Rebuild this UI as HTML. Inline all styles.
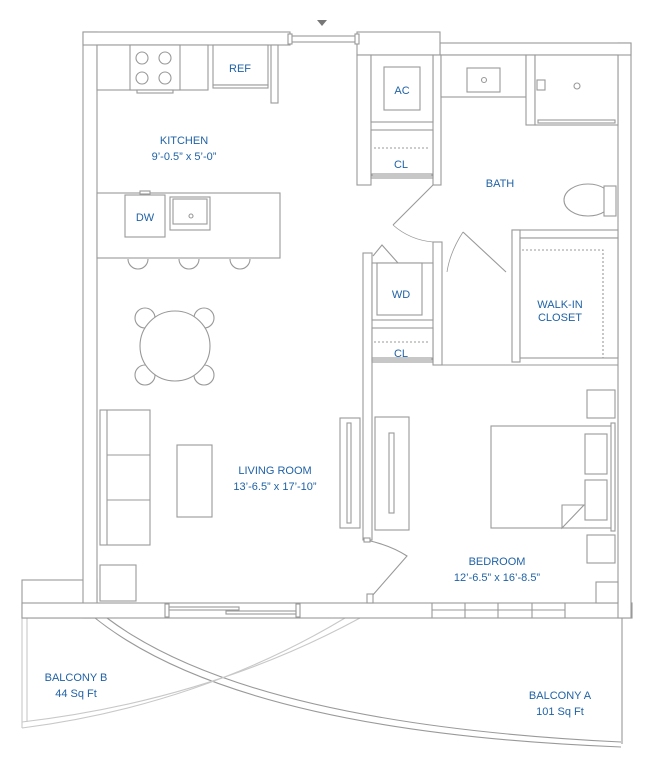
<!DOCTYPE html>
<html><head><meta charset="utf-8"><style>
html,body{margin:0;padding:0;background:#fff;width:652px;height:768px;overflow:hidden}
svg{display:block}
text{font-family:"Liberation Sans",sans-serif;fill:#1f62a6;font-size:11px;text-anchor:middle}
</style></head><body>
<svg width="652" height="768" viewBox="0 0 652 768" xmlns="http://www.w3.org/2000/svg">
<g fill="#fff" stroke="#999" stroke-width="1.1">
<!-- balcony -->
<path d="M22,618 V728 M27,618 V722" stroke="#c8c8c8" fill="none"/>
<path d="M622,618 V744" />
<path d="M107,618 Q248,724 621,742" fill="none"/>
<path d="M95,618 Q238,732 621,747" fill="none"/>
<path d="M360,618 Q209,700 22,722" fill="none" stroke="#c8c8c8"/>
<path d="M345,618 Q200,705 22,728" fill="none" stroke="#c8c8c8"/>
<!-- outer walls -->
<rect x="22" y="580" width="75" height="38"/>
<rect x="83" y="32" width="14" height="586"/>
<rect x="83" y="32" width="207" height="13"/>
<rect x="22" y="603" width="610" height="15"/>
<rect x="618" y="43" width="13" height="575"/>
<rect x="440" y="43" width="191" height="12"/>
<rect x="357" y="32" width="83" height="23"/>
<rect x="596" y="582" width="22" height="21"/>
<!-- top window -->
<rect x="290" y="36" width="67" height="6"/>
<rect x="288" y="34" width="4" height="10"/>
<rect x="355" y="34" width="4" height="10"/>
<!-- bottom sliding door -->
<rect x="165" y="604" width="133" height="13" stroke="none"/>
<rect x="165" y="604" width="4" height="13"/>
<rect x="296" y="604" width="4" height="13"/>
<rect x="169" y="607" width="70" height="3"/>
<rect x="226" y="611" width="70" height="3"/>
<!-- bedroom window -->
<path d="M432,603 V618 M465,603 V618 M498,603 V618 M532,603 V618 M565,603 V618 M432,610 H565" fill="none"/>
<!-- kitchen -->
<rect x="97" y="45" width="111" height="45"/>
<rect x="130" y="45" width="50" height="45"/>
<circle cx="142" cy="58" r="6"/><circle cx="165" cy="58" r="6"/>
<circle cx="142" cy="78" r="6"/><circle cx="165" cy="78" r="6"/>
<rect x="137" y="90" width="36" height="3"/>
<rect x="213" y="45" width="55" height="40"/>
<rect x="213" y="85" width="55" height="3"/>
<rect x="271" y="45" width="7" height="58"/>
<rect x="97" y="193" width="183" height="65"/>
<rect x="125" y="195" width="40" height="42"/>
<rect x="140" y="191" width="10" height="3"/>
<rect x="170" y="197" width="40" height="33"/>
<rect x="173" y="199" width="34" height="25"/>
<circle cx="191" cy="216" r="2"/>
<path d="M128,259 a10,10 0 0 0 20,0 M179,259 a10,10 0 0 0 20,0 M230,259 a10,10 0 0 0 20,0"/>
<!-- dining -->
<circle cx="145" cy="318" r="10"/><circle cx="204" cy="318" r="10"/>
<circle cx="145" cy="375" r="10"/><circle cx="204" cy="375" r="10"/>
<circle cx="175" cy="346" r="35"/>
<!-- sofa -->
<rect x="100" y="410" width="50" height="135"/>
<path d="M107,410 V545 M107,455 H150 M107,500 H150" fill="none"/>
<rect x="177" y="445" width="35" height="72"/>
<rect x="100" y="565" width="36" height="36"/>
<!-- central column -->
<rect x="357" y="55" width="14" height="130"/>
<rect x="433" y="55" width="8" height="130"/>
<rect x="371" y="55" width="62" height="67"/>
<rect x="384" y="67" width="36" height="43"/>
<rect x="371" y="130" width="62" height="48"/>
<path d="M374,148 H430" stroke-dasharray="2,2" fill="none"/>
<rect x="372" y="174" width="60" height="2"/>
<!-- bath -->
<rect x="441" y="55" width="85" height="42"/>
<rect x="467" y="68" width="33" height="24"/>
<circle cx="484" cy="80" r="2.5"/>
<rect x="526" y="55" width="9" height="70"/>
<rect x="535" y="55" width="83" height="70"/>
<rect x="538" y="120" width="77" height="3"/>
<circle cx="577" cy="86" r="3"/>
<rect x="537" y="80" width="8" height="10"/>
<ellipse cx="588" cy="200" rx="24" ry="16"/>
<rect x="604" y="186" width="12" height="30"/>
<rect x="512" y="230" width="106" height="8"/>
<rect x="512" y="230" width="8" height="132"/>
<rect x="520" y="238" width="98" height="120"/>
<path d="M522,250 H603 V358" stroke-dasharray="2,2" fill="none"/>
<!-- doors -->
<path d="M433,185 L393,225 M463,232 L506,272" fill="none"/>
<path d="M393,225 Q410,240 433,242 M463,232 Q450,252 447,272" fill="none" stroke-width="0.8"/>
<!-- WD column -->
<rect x="363" y="253" width="9" height="287"/>
<rect x="433" y="242" width="9" height="123"/>
<rect x="372" y="263" width="61" height="57"/>
<rect x="377" y="263" width="45" height="52"/>
<path d="M373,256 L382,245 L398,263" fill="none"/>
<rect x="372" y="328" width="61" height="34"/>
<path d="M374,342 H430" stroke-dasharray="2,2" fill="none"/>
<rect x="372" y="358" width="60" height="2"/>
<path d="M433,365 H618" fill="none"/>
<!-- bedroom -->
<rect x="340" y="418" width="20" height="110"/>
<rect x="347" y="423" width="4" height="100"/>
<rect x="375" y="417" width="34" height="113"/>
<rect x="389" y="433" width="5" height="80"/>
<rect x="491" y="426" width="124" height="102"/>
<rect x="611" y="423" width="4" height="108"/>
<rect x="585" y="434" width="22" height="40"/>
<rect x="585" y="480" width="22" height="40"/>
<path d="M562,528 V505 H584 Z"/>
<rect x="587" y="390" width="28" height="28"/>
<rect x="587" y="535" width="28" height="28"/>
<path d="M366,540 Q390,545 407,556 L372,596" fill="none"/>
<rect x="364" y="538" width="6" height="4"/>
<rect x="367" y="594" width="6" height="9"/>
</g>
<path d="M317,20 H327 L322,26 Z" fill="#777"/>
<text x="184" y="144">KITCHEN</text>
<text x="184" y="160">9’-0.5” x 5’-0”</text>
<text x="240" y="72">REF</text>
<text x="145" y="221">DW</text>
<text x="402" y="94">AC</text>
<text x="401" y="168">CL</text>
<text x="500" y="187">BATH</text>
<text x="401" y="298">WD</text>
<text x="401" y="357">CL</text>
<text x="560" y="308">WALK-IN</text>
<text x="560" y="321">CLOSET</text>
<text x="275" y="474">LIVING ROOM</text>
<text x="275" y="490">13’-6.5” x 17’-10”</text>
<text x="497" y="565">BEDROOM</text>
<text x="497" y="581">12’-6.5” x 16’-8.5”</text>
<text x="76" y="681">BALCONY B</text>
<text x="76" y="697">44 Sq Ft</text>
<text x="560" y="699">BALCONY A</text>
<text x="560" y="715">101 Sq Ft</text>
</svg>
</body></html>
